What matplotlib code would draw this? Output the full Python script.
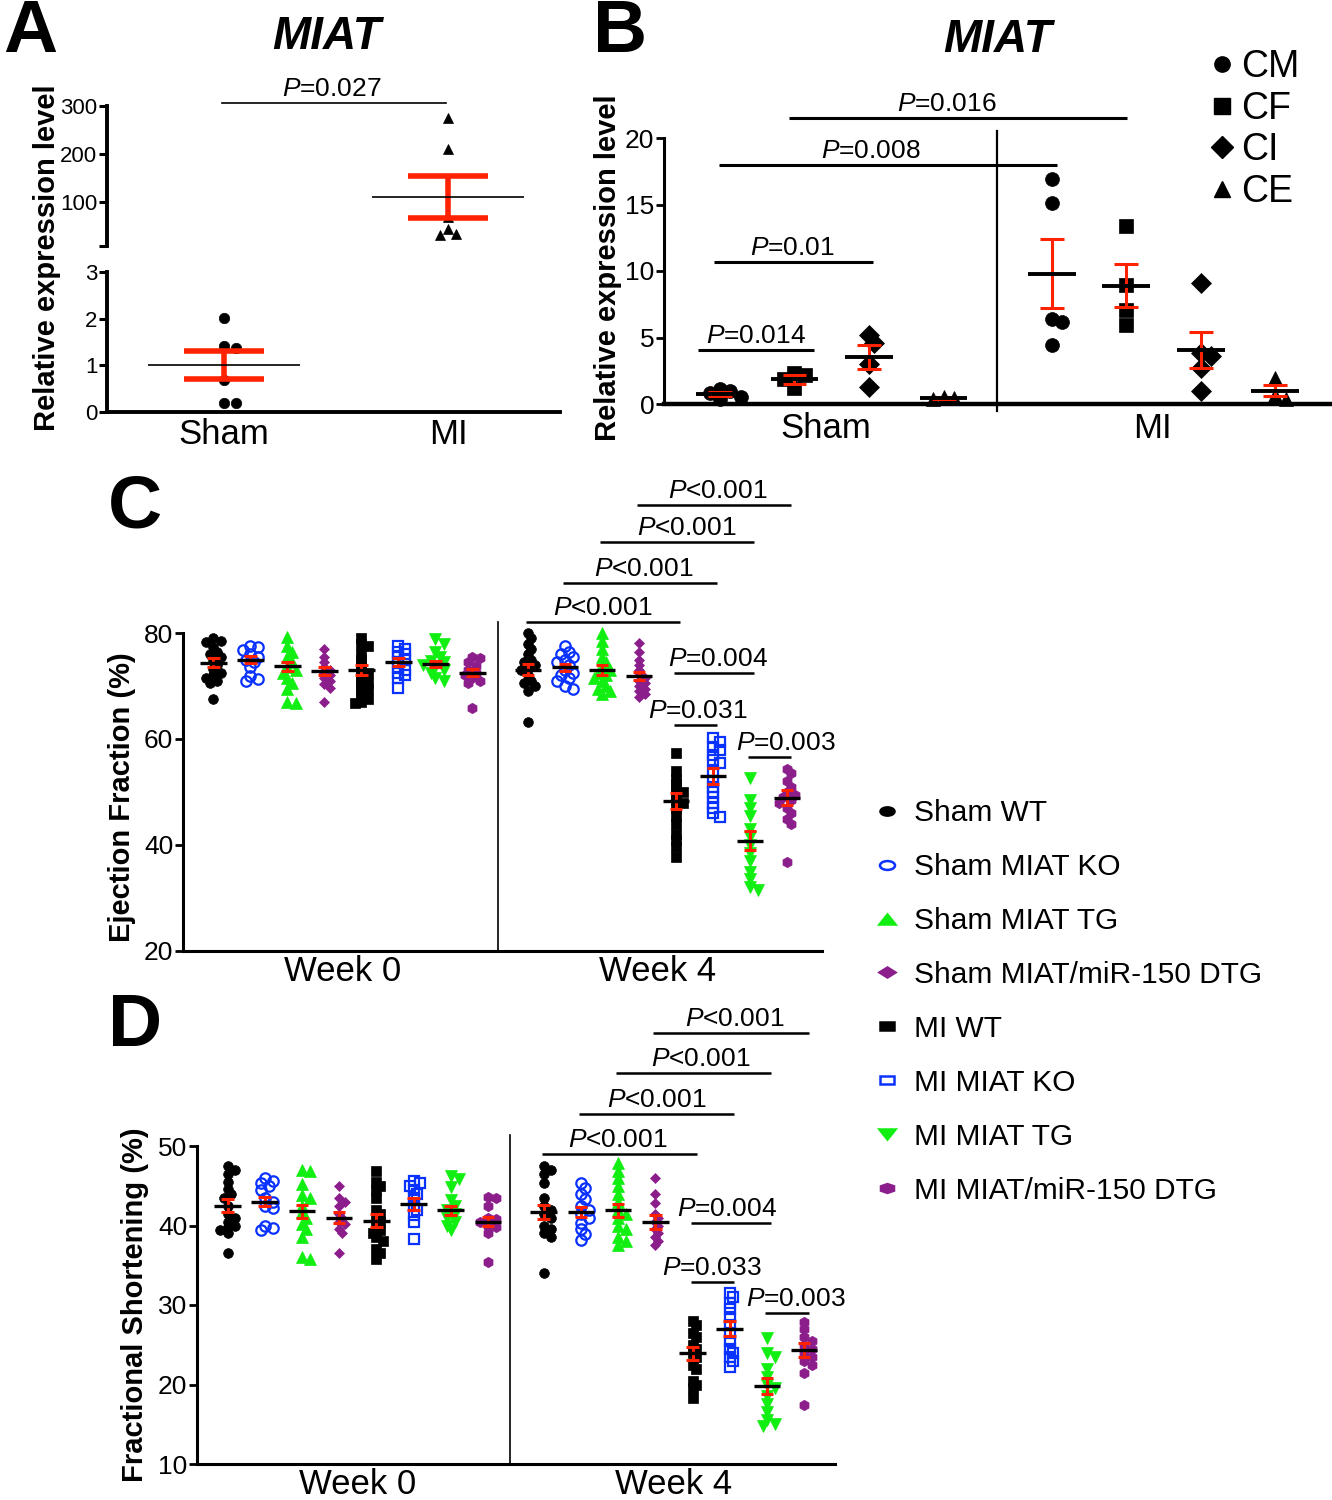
import numpy as np
import matplotlib
matplotlib.use('Agg')
import matplotlib.pyplot as plt
from matplotlib.lines import Line2D
from matplotlib.markers import MarkerStyle
from matplotlib.transforms import Affine2D

plt.rcParams['font.family'] = ['Liberation Sans', 'DejaVu Sans']
plt.rcParams['mathtext.fontset'] = 'custom'
plt.rcParams['mathtext.rm'] = 'Liberation Sans'
plt.rcParams['mathtext.it'] = 'Liberation Sans:italic'
plt.rcParams['mathtext.bf'] = 'Liberation Sans:bold'

# ---------------- data ----------------
# Panel A: MIAT expression, Sham vs MI
a_groups = ['Sham', 'MI']
a_sham = [2.02, 1.42, 1.38, 0.68, 0.20, 0.20]
a_mi = [275, 210, 69, 44, 32, 30]
a_mean = [1.0, 110]
a_sem = [0.30, 43]
a_pval = 'P=0.027'

# Panel B: MIAT expression by cell type
b_cells = ['CM', 'CF', 'CI', 'CE']
b_sham = [[1.1, 1.0, 0.8, 0.5, 0.4], [2.3, 2.2, 1.9, 1.2],
          [5.2, 4.6, 3.0, 1.3], [0.5, 0.45, 0.4]]
b_mi = [[16.9, 15.1, 6.4, 6.2, 4.4], [13.4, 8.95, 7.1, 5.95],
        [9.1, 3.8, 3.6, 2.7, 1.0], [1.95, 0.65, 0.4]]
b_sham_mean = [0.72, 1.85, 3.5, 0.45]
b_sham_sem = [0.15, 0.35, 0.9, 0.05]
b_mi_mean = [9.8, 8.9, 4.05, 1.0]
b_mi_sem = [2.6, 1.6, 1.35, 0.43]

# Panels C/D groups
groups = ['Sham WT', 'Sham MIAT KO', 'Sham MIAT TG', 'Sham MIAT/miR-150 DTG',
          'MI WT', 'MI MIAT KO', 'MI MIAT TG', 'MI MIAT/miR-150 DTG']
weeks = ['Week 0', 'Week 4']

# Panel C: ejection fraction (%)
ef_w0 = [
    [79.0, 78.5, 78.3, 77.3, 76.5, 76.0, 75.5, 74.8, 74.0, 73.2, 72.5, 72.0, 71.5, 71.0, 70.5, 67.5],
    [77.5, 77.3, 76.8, 76.0, 75.5, 75.0, 74.5, 73.5, 71.8, 71.3, 70.9],
    [79.3, 77.5, 76.5, 75.5, 74.5, 73.5, 73.0, 72.5, 71.5, 70.5, 69.5, 67.0, 66.8],
    [77.0, 75.5, 74.5, 73.5, 73.0, 72.5, 72.0, 71.5, 71.0, 70.3, 69.7, 67.0],
    [79.0, 78.0, 77.5, 76.0, 75.0, 74.0, 73.0, 72.5, 72.0, 71.0, 70.5, 70.0, 69.5, 69.0, 68.0, 67.5, 67.0, 66.8],
    [77.5, 77.0, 76.5, 76.0, 75.5, 75.0, 74.5, 73.5, 73.0, 72.5, 72.0, 71.5, 69.6],
    [78.8, 78.0, 76.5, 75.5, 74.8, 74.5, 74.0, 73.5, 73.0, 72.5, 71.5, 71.0],
    [75.5, 75.2, 74.5, 73.8, 73.0, 72.5, 72.0, 71.5, 71.0, 70.5, 65.8],
]
ef_w4 = [
    [80.0, 79.0, 78.0, 77.0, 76.0, 75.0, 74.5, 74.0, 73.5, 73.0, 72.0, 71.0, 70.5, 70.0, 69.0, 63.3],
    [77.5, 76.5, 76.0, 75.5, 75.0, 74.5, 74.0, 73.0, 72.5, 72.0, 71.5, 71.0, 70.0, 69.5],
    [80.0, 78.5, 77.0, 75.5, 74.5, 73.5, 73.0, 72.5, 72.0, 71.5, 71.0, 70.0, 69.5, 69.0, 68.5],
    [78.2, 76.5, 75.0, 74.0, 73.0, 72.0, 71.5, 71.0, 70.5, 70.0, 69.5, 69.0, 68.5, 68.0],
    [57.4, 54.0, 52.5, 51.5, 50.5, 50.0, 49.5, 48.5, 48.0, 47.0, 45.5, 44.0, 42.0, 41.0, 39.7, 37.8],
    [60.2, 59.5, 58.5, 58.0, 57.0, 56.0, 55.5, 54.0, 52.0, 51.0, 50.0, 49.0, 48.0, 47.0, 46.0, 45.3],
    [52.7, 48.5, 47.0, 45.5, 43.0, 41.5, 40.0, 38.5, 37.0, 35.0, 33.5, 32.0, 31.5],
    [54.4, 53.5, 52.0, 51.0, 50.0, 49.5, 49.0, 48.5, 48.0, 47.0, 46.0, 45.0, 44.0, 36.8],
]
ef_mean = [[74.4, 75.0, 73.7, 72.8, 73.0, 74.5, 74.2, 72.5],
           [73.1, 73.5, 73.0, 71.9, 48.3, 53.1, 40.8, 48.9]]
ef_sem = [[0.8, 0.6, 0.8, 0.7, 0.9, 0.7, 0.6, 0.7],
          [1.0, 0.7, 0.9, 0.8, 1.5, 1.5, 1.8, 1.4]]
ef_tests = [(3, 7, 104.2, 'P<0.001'), (2, 6, 97.2, 'P<0.001'),
            (1, 5, 89.4, 'P<0.001'), (0, 4, 82.1, 'P<0.001'),
            (4, 6, 72.5, 'P=0.004'), (4, 5, 62.6, 'P=0.031'),
            (6, 7, 56.6, 'P=0.003')]

# Panel D: fractional shortening (%)
fs_w0 = [
    [47.5, 47.0, 46.5, 45.5, 44.6, 44.0, 43.5, 42.5, 41.5, 41.0, 40.5, 40.0, 39.8, 39.4, 39.0, 36.6],
    [46.0, 45.6, 45.3, 45.0, 44.5, 43.5, 43.0, 42.5, 42.2, 40.0, 39.7, 39.4],
    [47.0, 46.8, 45.2, 43.8, 43.4, 42.5, 41.7, 41.0, 40.2, 39.5, 38.5, 36.0, 35.8],
    [45.0, 43.4, 43.0, 42.5, 41.5, 41.0, 40.5, 40.2, 39.5, 39.0, 36.5],
    [46.9, 45.5, 45.0, 44.5, 43.5, 42.0, 41.5, 41.0, 40.5, 40.0, 39.4, 39.0, 38.5, 38.1, 37.0, 36.5, 35.8],
    [45.6, 45.3, 45.0, 44.5, 44.0, 43.5, 42.5, 42.0, 41.3, 40.4, 38.3],
    [46.2, 45.8, 44.8, 43.2, 42.5, 42.0, 41.5, 41.0, 40.5, 40.0, 39.4],
    [43.6, 43.4, 42.5, 41.0, 40.8, 40.5, 40.0, 39.8, 39.0, 35.4],
]
fs_w4 = [
    [47.5, 47.0, 46.5, 45.3, 43.5, 42.5, 42.0, 41.5, 41.0, 40.0, 39.5, 39.0, 38.5, 34.0],
    [45.3, 44.7, 44.0, 43.3, 42.5, 42.0, 41.5, 41.0, 40.3, 39.5, 38.9, 38.2],
    [47.8, 46.8, 46.0, 45.0, 44.0, 43.0, 42.0, 41.5, 41.0, 40.0, 39.5, 38.5, 38.0, 37.5],
    [46.0, 44.0, 42.8, 41.5, 41.0, 40.5, 40.0, 39.5, 39.0, 38.5, 38.0, 37.5],
    [28.0, 27.5, 26.5, 26.0, 25.0, 24.5, 24.0, 23.5, 22.5, 22.0, 20.5, 20.0, 19.5, 18.3],
    [31.5, 31.0, 30.2, 29.5, 28.5, 27.5, 26.5, 25.5, 24.5, 24.0, 23.5, 23.0, 22.2],
    [25.8, 24.0, 23.5, 22.0, 21.0, 20.0, 19.5, 18.5, 17.5, 16.5, 15.5, 15.0, 14.8],
    [27.9, 27.0, 26.0, 25.5, 25.0, 24.5, 24.0, 23.5, 23.0, 22.5, 21.5, 17.4],
]
fs_mean = [[42.5, 43.0, 41.8, 41.0, 40.6, 42.7, 41.9, 40.5],
           [41.7, 41.7, 41.9, 40.4, 23.9, 27.0, 19.8, 24.3]]
fs_sem = [[0.85, 0.6, 0.8, 0.7, 0.8, 0.7, 0.6, 0.6],
          [0.9, 0.6, 0.8, 0.9, 0.85, 0.95, 1.05, 0.9]]
fs_tests = [(3, 7, 64.2, 'P<0.001'), (2, 6, 59.2, 'P<0.001'),
            (1, 5, 54.0, 'P<0.001'), (0, 4, 49.0, 'P<0.001'),
            (4, 6, 40.3, 'P=0.004'), (4, 5, 32.9, 'P=0.033'),
            (6, 7, 29.0, 'P=0.003')]

# ---------------- styles ----------------
RED = '#ff2200'
BLUE = '#0a32ff'
GREEN = '#11ee11'
PURPLE = '#8c1e8c'
g_markers = ['o', 'o', '^', 'D', 's', 's', 'v', 'h']
g_colors = ['k', BLUE, GREEN, PURPLE, 'k', BLUE, GREEN, PURPLE]
g_filled = [True, False, True, True, True, False, True, True]
g_ms = [7, 7.5, 8, 5.5, 6.5, 6.5, 8, 7.5]
b_markers = ['o', 's', 'D', '^']

W, H = 1332, 1500
fig = plt.figure(figsize=(W / 100, H / 100), dpi=100)


def px_axes(left, top, right, bottom):
    return fig.add_axes([left / W, 1 - bottom / H, (right - left) / W, (bottom - top) / H])


def swarm(values, x_ppu, y_ppu, diam, step=0.4, gap=0.7):
    vals = np.asarray(values, float)
    placed = []
    offs = np.zeros(len(vals))
    cands = [0]
    for j in range(1, 30):
        cands += [j, -j]
    for i in np.argsort(-vals):
        y = vals[i] * y_ppu
        for c in cands:
            x = c * diam * step
            if all((x - px) ** 2 + (y - py) ** 2 >= (diam * gap) ** 2 for px, py in placed):
                break
        placed.append((x, y))
        offs[i] = x / x_ppu
    return offs


def column(ax, x, vals, mean, sem, marker, color, filled, ms, x_ppu, y_ppu,
           half_mean, half_sem, mean_lw, sem_lw, mew=1.6, gap=0.7):
    offs = swarm(vals, x_ppu, y_ppu, ms * 1.3, gap=gap)
    ax.plot(x + offs, vals, ls='none', marker=marker, ms=ms,
            mfc=color if filled else 'none', mec=color, mew=mew if not filled else 0.5,
            zorder=3, clip_on=False)
    ax.vlines(x, mean - sem, mean + sem, color=RED, lw=sem_lw, zorder=4)
    ax.hlines([mean - sem, mean + sem], x - half_sem, x + half_sem, color=RED, lw=sem_lw, zorder=4)
    ax.hlines(mean, x - half_mean, x + half_mean, color='k', lw=mean_lw, zorder=5)


def bracket(ax, x0, x1, y, label, tx, fs, lw=1.8):
    ax.plot([x0, x1], [y, y], color='k', lw=lw, clip_on=False, solid_capstyle='butt')
    lab = r'$\mathit{P}$' + label[1:]
    ax.annotate(lab, xy=(tx, y), xytext=(0, 5), textcoords='offset points',
                ha='center', va='baseline', fontsize=fs, annotation_clip=False)


# ---------------- Panel A ----------------
a_x_ppu = 224.0
a_lo = px_axes(107, 272, 560, 412)
a_hi = px_axes(107, 106, 560, 246)
for ax in (a_lo, a_hi):
    ax.set_xlim(1 - 117 / a_x_ppu, 2 + 112 / a_x_ppu)
    for s in ('top', 'right'):
        ax.spines[s].set_visible(False)
    ax.spines['left'].set_linewidth(2.8)
    ax.tick_params(axis='y', length=6, width=2.2, labelsize=16, pad=1)
a_lo.set_ylim(0, 3)
a_lo.set_yticks([0, 1, 2, 3])
a_lo.spines['bottom'].set_linewidth(2.8)
a_lo.set_xticks([1, 2])
a_lo.set_xticklabels(a_groups, fontsize=25)
a_lo.tick_params(axis='x', length=0, pad=4)
a_hi.set_ylim(8, 300)
a_hi.set_yticks([8, 100, 200, 300])
a_hi.set_yticklabels(['', '100', '200', '300'])
a_hi.spines['bottom'].set_visible(False)
a_hi.set_xticks([])
a_hi.patch.set_alpha(0)

column(a_lo, 1, a_sham, a_mean[0], a_sem[0], 'o', 'k', True, 7.5, a_x_ppu, 46.7,
       0.34, 0.18, 1.2, 4.0, gap=0.95)
column(a_hi, 2, a_mi, a_mean[1], a_sem[1], '^', 'k', True, 7.5, a_x_ppu, 0.48,
       0.34, 0.18, 1.2, 4.0, gap=0.95)
a_hi.plot([0.99, 1.99], [306, 306], color='k', lw=1.2, clip_on=False)
a_hi.annotate(r'$\mathit{P}$' + a_pval[1:], xy=(1.48, 306), xytext=(0, 5),
              textcoords='offset points', ha='center', va='baseline', fontsize=19,
              annotation_clip=False)
fig.text(47 / W, 1 - 258 / H, 'Relative expression level', rotation=90, fontsize=21,
         fontweight='bold', ha='center', va='center')
fig.text(327 / W, 1 - 37 / H, 'MIAT', fontsize=33, fontweight='bold', style='italic',
         ha='center', va='center')
fig.text(30 / W, 1 - 32 / H, 'A', fontsize=54, fontweight='bold', ha='center', va='center')

# ---------------- Panel B ----------------
b_x_ppu, b_y_ppu = 74.5, 13.3
b_ax = px_axes(664, 138, 1332, 404)
b_ax.set_xlim(-0.75, 8.21)
b_ax.set_ylim(0, 20)
for s in ('top', 'right'):
    b_ax.spines[s].set_visible(False)
b_ax.spines['left'].set_linewidth(2.2)
b_ax.spines['bottom'].set_linewidth(3.2)
b_ax.set_yticks([0, 5, 10, 15, 20])
b_ax.tick_params(axis='y', length=6, width=2, labelsize=19, pad=1)
b_pos_sham = np.arange(4)
b_pos_mi = np.arange(4) + 4.45
b_ax.set_xticks([b_pos_sham.mean() - 0.08, b_pos_mi.mean() - 0.15])
b_ax.set_xticklabels(['Sham', 'MI'], fontsize=25)
b_ax.tick_params(axis='x', length=0, pad=6)
b_ax.plot([3.72, 3.72], [-0.5, 20.5], color='k', lw=1.6, clip_on=False)
for i in range(4):
    column(b_ax, b_pos_sham[i], b_sham[i], b_sham_mean[i], b_sham_sem[i], b_markers[i], 'k',
           True, 10, b_x_ppu, b_y_ppu, 0.32, 0.16, 2.8, 2.2)
    column(b_ax, b_pos_mi[i], b_mi[i], b_mi_mean[i], b_mi_sem[i], b_markers[i], 'k',
           True, 10, b_x_ppu, b_y_ppu, 0.32, 0.16, 2.8, 2.2)
bracket(b_ax, -0.3, 1.26, 4.06, 'P=0.014', 0.48, 19, lw=2.2)
bracket(b_ax, -0.08, 2.05, 10.7, 'P=0.01', 0.97, 19, lw=2.2)
bracket(b_ax, -0.01, 4.52, 18.0, 'P=0.008', 2.03, 19, lw=2.2)
bracket(b_ax, 0.93, 5.46, 21.5, 'P=0.016', 3.05, 19, lw=2.2)
b_handles = [Line2D([], [], ls='none', marker=m, color='k', ms=11) for m in b_markers]
fig.legend(b_handles, b_cells, loc='upper left', bbox_to_anchor=(1207 / W, 1 - 49 / H),
           frameon=False, fontsize=27, handlelength=0.8, handletextpad=0.12,
           labelspacing=0.15, borderpad=0, borderaxespad=0)
fig.text(608 / W, 1 - 268 / H, 'Relative expression level', rotation=90, fontsize=21,
         fontweight='bold', ha='center', va='center')
fig.text(998 / W, 1 - 40 / H, 'MIAT', fontsize=33, fontweight='bold', style='italic',
         ha='center', va='center')
fig.text(620 / W, 1 - 32 / H, 'B', fontsize=54, fontweight='bold', ha='center', va='center')


# ---------------- Panels C and D ----------------
def echo_panel(box, x_ppu, ylim, yticks, w0, w4, means, sems, tests, ylabel, label_xy,
               text_dx, divider):
    ax = px_axes(*box)
    left, top, right, bottom = box
    y_ppu = (bottom - top) / (ylim[1] - ylim[0])
    ax.set_xlim(-0.82, -0.82 + (right - left) / x_ppu)
    ax.set_ylim(*ylim)
    for s in ('top', 'right'):
        ax.spines[s].set_visible(False)
    ax.spines['left'].set_linewidth(2.2)
    ax.spines['bottom'].set_linewidth(2.2)
    ax.set_yticks(yticks)
    ax.tick_params(axis='y', length=6, width=2, labelsize=19, pad=1)
    ax.set_xticks([3.5, 12.0])
    ax.set_xticklabels(weeks, fontsize=25)
    ax.tick_params(axis='x', length=0, pad=3)
    ax.plot([divider, divider], [ylim[0], ylim[1] + 11 / y_ppu], color='k', lw=1.2, clip_on=False)
    for w, data in enumerate((w0, w4)):
        for i in range(8):
            column(ax, 8.5 * w + i, data[i], means[w][i], sems[w][i], g_markers[i], g_colors[i],
                   g_filled[i], g_ms[i], x_ppu, y_ppu, 0.36, 0.17, 2.4, 2.2, gap=0.6)
    for k, (i, j, y, lab) in enumerate(tests):
        x0, x1 = 8.5 + i - 0.05, 8.5 + j + 0.12
        bracket(ax, x0, x1, y, lab, (x0 + x1) / 2 + text_dx[k], 19)
    fig.text(label_xy[0] / W, 1 - label_xy[1] / H, ylabel, rotation=90, fontsize=21,
             fontweight='bold', ha='center', va='center')
    return ax


echo_panel((183, 633, 822, 951), 37.0, (20, 80), [20, 40, 60, 80], ef_w0, ef_w4,
           ef_mean, ef_sem, ef_tests, 'Ejection Fraction (%)', (122, 797),
           [0.1, 0.25, 0.1, 0.0, 0.1, 0.05, 0.45], 7.68)
echo_panel((197, 1146, 835, 1464), 37.2, (10, 50), [10, 20, 30, 40, 50], fs_w0, fs_w4,
           fs_mean, fs_sem, fs_tests, 'Fractional Shortening (%)', (135, 1305),
           [0.1, 0.2, 0.0, -0.05, -0.1, 0.0, 0.25], 7.6)
fig.text(135 / W, 1 - 508 / H, 'C', fontsize=54, fontweight='bold', ha='center', va='center')
fig.text(135 / W, 1 - 1027 / H, 'D', fontsize=54, fontweight='bold', ha='center', va='center')

wide = Affine2D().scale(1.7, 1.0)
g_handles = [Line2D([], [], ls='none', marker=MarkerStyle(g_markers[i], transform=wide),
                    ms=g_ms[i] * 0.85, mfc=g_colors[i] if g_filled[i] else 'none',
                    mec=g_colors[i], mew=1.8)
             for i in range(8)]
fig.legend(g_handles, groups, loc='upper left', bbox_to_anchor=(872 / W, 1 - 799 / H),
           frameon=False, fontsize=21.5, handlelength=1.0, handletextpad=0.4,
           labelspacing=0.87, borderpad=0, borderaxespad=0)

fig.savefig('out.png', dpi=100)
